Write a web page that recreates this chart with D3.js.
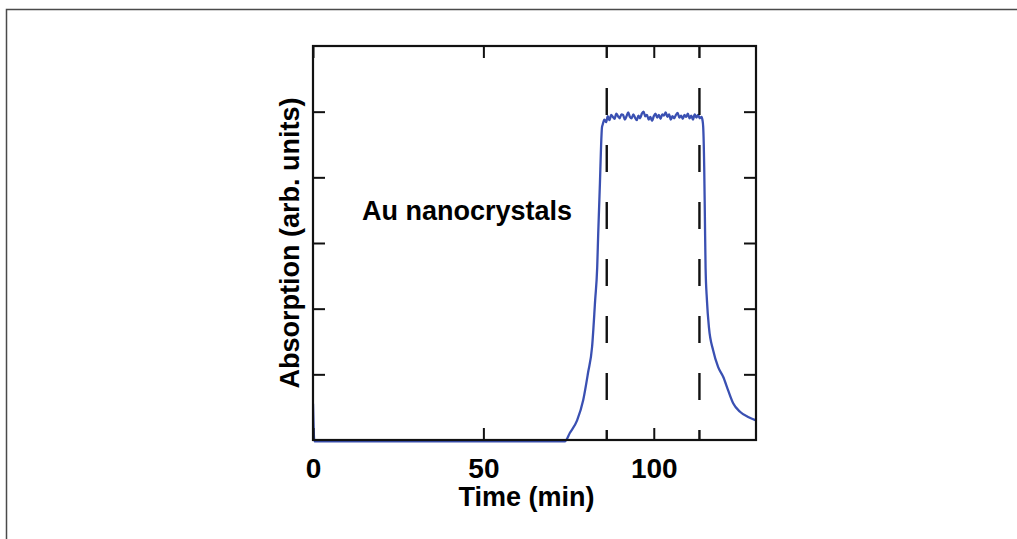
<!DOCTYPE html>
<html>
<head>
<meta charset="utf-8">
<script src="https://cdn.jsdelivr.net/npm/d3@7"></script>
<style>
  html, body { margin: 0; padding: 0; background: #fff; }
  svg { display: block; }
</style>
</head>
<body>
<svg id="chart" width="1017" height="539"></svg>
<script>
// ---- data ----
const baseTime  = [0, 0.4, 10, 30, 50, 65, 73.9];
const baseValue = [0.55, -0.02, -0.02, -0.02, -0.02, -0.02, -0.02];

const riseTime  = [75.4, 77.5, 79.3, 80.7, 81.9, 82.8, 83.4, 83.7, 84.2, 84.5, 84.8];
const riseValue = [0.11, 0.30, 0.61, 1.02, 1.42, 2.13, 2.63, 3.15, 3.91, 4.42, 4.76];

const plateauTime = [85.0, 85.5, 86.0, 86.5, 87.0, 87.5, 88.0, 88.5, 89.0, 89.5,
                     90.0, 90.5, 91.0, 91.5, 92.0, 92.5, 93.0, 93.5, 94.0, 94.5,
                     95.0, 95.5, 96.0, 96.5, 97.0, 97.5, 98.0, 98.5, 99.0, 99.5,
                     100.0, 100.5, 101.0, 101.5, 102.0, 102.5, 103.0, 103.5, 104.0, 104.5,
                     105.0, 105.5, 106.0, 106.5, 107.0, 107.5, 108.0, 108.5, 109.0, 109.5,
                     110.0, 110.5, 111.0, 111.5, 112.0, 112.5, 113.0, 113.5, 114.0];
const plateauValue = [4.80, 4.88, 4.84, 4.93, 4.87, 4.95, 4.92, 4.89, 4.97, 4.93,
                      4.90, 4.96, 4.95, 4.88, 4.93, 4.99, 4.92, 4.90, 4.96, 4.91,
                      4.87, 4.94, 4.90, 4.97, 5.00, 4.93, 4.95, 4.88, 4.92, 4.86,
                      4.93, 4.97, 4.91, 4.95, 4.89, 4.96, 4.94, 4.99, 4.92, 4.96,
                      4.88, 4.93, 4.90, 4.95, 4.98, 4.91, 4.94, 4.89, 4.95, 4.92,
                      4.97, 4.90, 4.94, 4.88, 4.96, 4.91, 4.95, 4.90, 4.92];

const fallTime  = [114.3, 114.5, 114.8, 115.0, 115.2, 115.6, 116.2, 117.4, 118.9, 120.4, 121.8, 123.3, 125.3, 127.7, 130.0];
const fallValue = [4.87, 4.77, 4.16, 3.40, 2.63, 2.13, 1.71, 1.37, 1.11, 0.96, 0.76, 0.56, 0.43, 0.35, 0.30];

const markerTimes = [86.2, 113.4];
const xTicks = [0, 50, 100];
const yTicks = [1, 2, 3, 4, 5];
const xDomain = [0, 130];
const yDomain = [0, 6];

const annotation = "Au nanocrystals";
const xLabel = "Time (min)";
const yLabel = "Absorption (arb. units)";

// ---- layout ----
const svg = d3.select("#chart");
const L = 313, R = 756, T = 46, B = 440;
const x = d3.scaleLinear().domain(xDomain).range([L, R]);
const y = d3.scaleLinear().domain(yDomain).range([B, T]);
const font = "'Liberation Sans', Arial, Helvetica, sans-serif";

// outer frame
svg.append("rect")
  .attr("x", 6.5).attr("y", 9.5).attr("width", 1100).attr("height", 600)
  .attr("fill", "none").attr("stroke", "#4a4a4a").attr("stroke-width", 1.5);

// data series
const times = baseTime.concat(riseTime, plateauTime, fallTime);
const values = baseValue.concat(riseValue, plateauValue, fallValue);
const pts = times.map((t, i) => [t, values[i]]);

svg.append("defs").append("clipPath").attr("id", "clip")
  .append("rect").attr("x", L).attr("y", T - 2).attr("width", R - L + 1).attr("height", B - T + 6);

svg.append("path")
  .datum(pts)
  .attr("clip-path", "url(#clip)")
  .attr("fill", "none")
  .attr("stroke", "#3a50b2")
  .attr("stroke-width", 2.3)
  .attr("stroke-linejoin", "round")
  .attr("d", d3.line().curve(d3.curveMonotoneX).x(d => x(d[0])).y(d => y(d[1])));

// dashed markers
svg.selectAll("line.marker").data(markerTimes).enter().append("line")
  .attr("class", "marker")
  .attr("x1", d => x(d)).attr("x2", d => x(d))
  .attr("y1", T).attr("y2", B)
  .attr("stroke", "#111").attr("stroke-width", 2.4)
  .attr("stroke-dasharray", "27,30").attr("stroke-dashoffset", 15);

// axes (ticks inward on all four sides)
const tickLen = 12;
const gB = svg.append("g").attr("transform", `translate(0,${B})`)
  .call(d3.axisBottom(x).tickValues(xTicks).tickSizeInner(-tickLen).tickSizeOuter(0).tickPadding(18));
const gT = svg.append("g").attr("transform", `translate(0,${T})`)
  .call(d3.axisTop(x).tickValues(xTicks).tickSizeInner(-tickLen).tickSizeOuter(0).tickFormat(""));
const gL = svg.append("g").attr("transform", `translate(${L},0)`)
  .call(d3.axisLeft(y).tickValues(yTicks).tickSizeInner(-tickLen).tickSizeOuter(0).tickFormat(""));
const gR = svg.append("g").attr("transform", `translate(${R},0)`)
  .call(d3.axisRight(y).tickValues(yTicks).tickSizeInner(-tickLen).tickSizeOuter(0).tickFormat(""));

[gB, gT, gL, gR].forEach(g => {
  g.select(".domain").remove();
  g.selectAll(".tick line").attr("stroke", "#111").attr("stroke-width", 2);
});
gB.selectAll(".tick text")
  .attr("font-family", font).attr("font-weight", "bold").attr("font-size", 28).attr("fill", "#000");

// frame
svg.append("rect")
  .attr("x", L).attr("y", T).attr("width", R - L).attr("height", B - T)
  .attr("fill", "none").attr("stroke", "#111").attr("stroke-width", 2.2);

// labels
svg.append("text")
  .attr("x", (L + R) / 2 - 8).attr("y", 506)
  .attr("text-anchor", "middle")
  .attr("font-family", font).attr("font-weight", "bold").attr("font-size", 27)
  .text(xLabel);

svg.append("text")
  .attr("transform", `translate(299,${(T + B) / 2}) rotate(-90)`)
  .attr("text-anchor", "middle")
  .attr("font-family", font).attr("font-weight", "bold").attr("font-size", 27)
  .text(yLabel);

svg.append("text")
  .attr("x", 362).attr("y", 220)
  .attr("font-family", font).attr("font-weight", "bold").attr("font-size", 27)
  .text(annotation);
</script>
</body>
</html>
